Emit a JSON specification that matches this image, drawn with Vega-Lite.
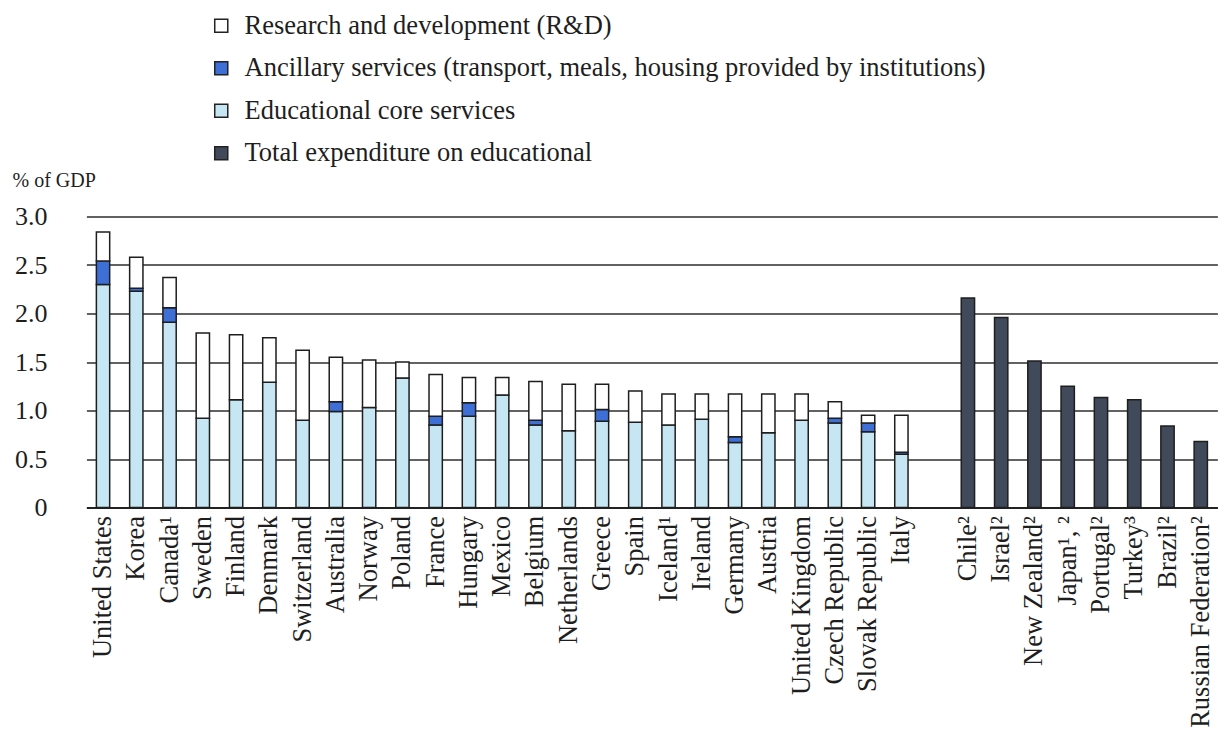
{
  "$schema": "https://vega.github.io/schema/vega-lite/v6.json",
  "autosize": "none",
  "padding": {"left": 65, "top": 216.5, "right": 0, "bottom": 225.5},
  "width": 1160,
  "height": 291,
  "background": "white",
  "config": {
    "view": {"stroke": null},
    "font": "Liberation Serif"
  },
  "data": {
    "values": [
      {"country": "United States", "component": "core", "value": 2.30},
      {"country": "United States", "component": "extra", "value": 0.24},
      {"country": "United States", "component": "rd", "value": 0.30},
      {"country": "Korea", "component": "core", "value": 2.23},
      {"country": "Korea", "component": "extra", "value": 0.03},
      {"country": "Korea", "component": "rd", "value": 0.32},
      {"country": "Canada¹", "component": "core", "value": 1.91},
      {"country": "Canada¹", "component": "extra", "value": 0.15},
      {"country": "Canada¹", "component": "rd", "value": 0.31},
      {"country": "Sweden", "component": "core", "value": 0.92},
      {"country": "Sweden", "component": "rd", "value": 0.88},
      {"country": "Finland", "component": "core", "value": 1.11},
      {"country": "Finland", "component": "rd", "value": 0.67},
      {"country": "Denmark", "component": "core", "value": 1.29},
      {"country": "Denmark", "component": "rd", "value": 0.46},
      {"country": "Switzerland", "component": "core", "value": 0.90},
      {"country": "Switzerland", "component": "rd", "value": 0.72},
      {"country": "Australia", "component": "core", "value": 0.99},
      {"country": "Australia", "component": "extra", "value": 0.10},
      {"country": "Australia", "component": "rd", "value": 0.46},
      {"country": "Norway", "component": "core", "value": 1.03},
      {"country": "Norway", "component": "rd", "value": 0.49},
      {"country": "Poland", "component": "core", "value": 1.335},
      {"country": "Poland", "component": "rd", "value": 0.165},
      {"country": "France", "component": "core", "value": 0.85},
      {"country": "France", "component": "extra", "value": 0.09},
      {"country": "France", "component": "rd", "value": 0.43},
      {"country": "Hungary", "component": "core", "value": 0.94},
      {"country": "Hungary", "component": "extra", "value": 0.14},
      {"country": "Hungary", "component": "rd", "value": 0.26},
      {"country": "Mexico", "component": "core", "value": 1.16},
      {"country": "Mexico", "component": "rd", "value": 0.18},
      {"country": "Belgium", "component": "core", "value": 0.85},
      {"country": "Belgium", "component": "extra", "value": 0.05},
      {"country": "Belgium", "component": "rd", "value": 0.40},
      {"country": "Netherlands", "component": "core", "value": 0.79},
      {"country": "Netherlands", "component": "rd", "value": 0.48},
      {"country": "Greece", "component": "core", "value": 0.89},
      {"country": "Greece", "component": "extra", "value": 0.12},
      {"country": "Greece", "component": "rd", "value": 0.26},
      {"country": "Spain", "component": "core", "value": 0.88},
      {"country": "Spain", "component": "rd", "value": 0.32},
      {"country": "Iceland¹", "component": "core", "value": 0.85},
      {"country": "Iceland¹", "component": "rd", "value": 0.32},
      {"country": "Ireland", "component": "core", "value": 0.91},
      {"country": "Ireland", "component": "rd", "value": 0.26},
      {"country": "Germany", "component": "core", "value": 0.67},
      {"country": "Germany", "component": "extra", "value": 0.06},
      {"country": "Germany", "component": "rd", "value": 0.44},
      {"country": "Austria", "component": "core", "value": 0.77},
      {"country": "Austria", "component": "rd", "value": 0.40},
      {"country": "United Kingdom", "component": "core", "value": 0.90},
      {"country": "United Kingdom", "component": "rd", "value": 0.27},
      {"country": "Czech Republic", "component": "core", "value": 0.87},
      {"country": "Czech Republic", "component": "extra", "value": 0.05},
      {"country": "Czech Republic", "component": "rd", "value": 0.17},
      {"country": "Slovak Republic", "component": "core", "value": 0.78},
      {"country": "Slovak Republic", "component": "extra", "value": 0.09},
      {"country": "Slovak Republic", "component": "rd", "value": 0.08},
      {"country": "Italy", "component": "core", "value": 0.55},
      {"country": "Italy", "component": "extra", "value": 0.02},
      {"country": "Italy", "component": "rd", "value": 0.38},
      {"country": "Chile²", "component": "total", "value": 2.16},
      {"country": "Israel²", "component": "total", "value": 1.96},
      {"country": "New Zealand²", "component": "total", "value": 1.51},
      {"country": "Japan¹, ²", "component": "total", "value": 1.25},
      {"country": "Portugal²", "component": "total", "value": 1.135},
      {"country": "Turkey³", "component": "total", "value": 1.11},
      {"country": "Brazil²", "component": "total", "value": 0.84},
      {"country": "Russian Federation²", "component": "total", "value": 0.68}
    ]
  },
  "mark": {"type": "bar", "stroke": "#1e1e1e", "strokeWidth": 1.5},
  "encoding": {
    "x": {
      "field": "country",
      "type": "nominal",
      "scale": {
        "domain": ["United States", "Korea", "Canada¹", "Sweden", "Finland", "Denmark", "Switzerland", "Australia", "Norway", "Poland", "France", "Hungary", "Mexico", "Belgium", "Netherlands", "Greece", "Spain", "Iceland¹", "Ireland", "Germany", "Austria", "United Kingdom", "Czech Republic", "Slovak Republic", "Italy", " ", "Chile²", "Israel²", "New Zealand²", "Japan¹, ²", "Portugal²", "Turkey³", "Brazil²", "Russian Federation²"],
        "range": [21.4, 1152.4],
        "paddingInner": 0.6,
        "paddingOuter": 0.3
      },
      "axis": {
        "title": null,
        "labelAngle": -90,
        "labelAlign": "right",
        "labelBaseline": "middle",
        "labelFontSize": 26.5,
        "labelFont": "Liberation Serif",
        "labelColor": "#1e1e1e",
        "labelPadding": 8,
        "ticks": false,
        "domainColor": "#222222",
        "domainWidth": 2,
        "labelOverlap": false,
        "labelLimit": 400
      }
    },
    "y": {
      "field": "value",
      "type": "quantitative",
      "aggregate": "sum",
      "stack": "zero",
      "scale": {"domain": [0, 3], "nice": false},
      "axis": {
        "title": "% of GDP",
        "titleAngle": 0,
        "titleAlign": "left",
        "titleBaseline": "middle",
        "titleX": -53,
        "titleY": -36,
        "titleFontSize": 20,
        "titleFontWeight": "normal",
        "titleFont": "Liberation Serif",
        "titleColor": "#1e1e1e",
        "values": [0, 0.5, 1, 1.5, 2, 2.5, 3],
        "labelExpr": "datum.value == 0 ? '0' : format(datum.value, '.1f')",
        "labelFontSize": 26,
        "labelFont": "Liberation Serif",
        "labelColor": "#1e1e1e",
        "labelPadding": 18,
        "ticks": false,
        "domain": false,
        "grid": true,
        "gridColor": "#2e2e2e",
        "gridWidth": 1.6
      }
    },
    "color": {
      "field": "component",
      "type": "nominal",
      "scale": {
        "domain": ["rd", "extra", "core", "total"],
        "range": ["#ffffff", "#3d6fd6", "#c6e6f3", "#404a5b"]
      },
      "legend": {
        "title": null,
        "orient": "none",
        "legendX": 143,
        "legendY": -204,
        "direction": "vertical",
        "symbolType": "square",
        "symbolSize": 170,
        "symbolStrokeColor": "#222222",
        "symbolStrokeWidth": 1.5,
        "labelFontSize": 26.5,
        "labelFont": "Liberation Serif",
        "labelColor": "#1e1e1e",
        "labelOffset": 10,
        "rowPadding": 15.5,
        "labelLimit": 1000,
        "labelExpr": "datum.value == 'rd' ? 'Research and development (R&D)' : datum.value == 'extra' ? 'Ancillary services (transport, meals, housing provided by institutions)' : datum.value == 'core' ? 'Educational core services' : 'Total expenditure on educational'"
      }
    },
    "order": {"field": "component", "type": "nominal", "sort": "ascending"}
  }
}
